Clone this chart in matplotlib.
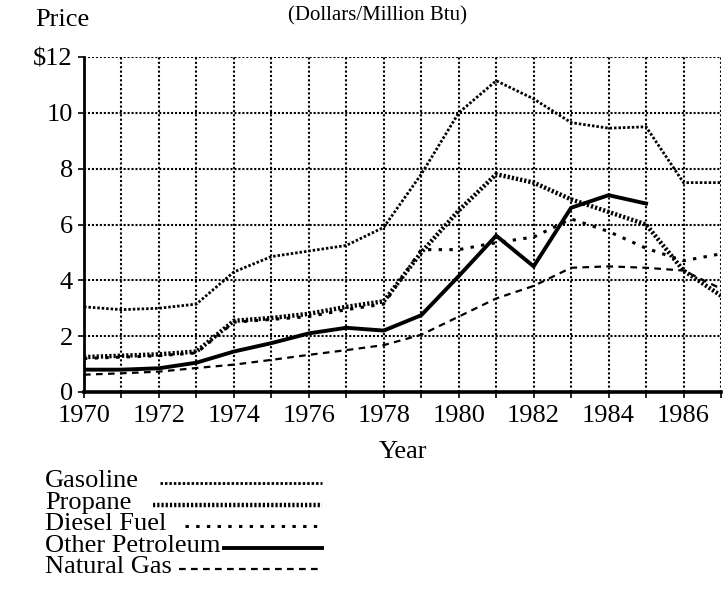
import numpy as np, matplotlib
matplotlib.use("Agg")
import matplotlib.pyplot as plt
from matplotlib.lines import Line2D

plt.rcParams['font.family'] = ['Liberation Serif', 'DejaVu Serif']

# ---- data ($/million Btu) ----
years = list(range(1970, 1988))
gasoline = [3.05, 2.95, 3.0, 3.15, 4.3, 4.85, 5.05, 5.25, 5.9, 7.8, 10.0, 11.15, 10.5, 9.65, 9.45, 9.5, 7.5, 7.5]
propane  = [1.25, 1.3, 1.35, 1.45, 2.55, 2.65, 2.8, 3.05, 3.25, 5.0, 6.5, 7.8, 7.5, 6.9, 6.45, 6.0, 4.35, 3.45]
diesel   = [1.2, 1.25, 1.3, 1.4, 2.5, 2.6, 2.7, 2.95, 3.15, 5.1, 5.1, 5.35, 5.55, 6.2, 5.75, 5.15, 4.7, 4.95]
other_years = list(range(1970, 1986))
other    = [0.8, 0.8, 0.85, 1.05, 1.45, 1.75, 2.1, 2.3, 2.2, 2.75, 4.15, 5.6, 4.5, 6.6, 7.05, 6.75]
natgas   = [0.62, 0.67, 0.73, 0.86, 0.98, 1.15, 1.33, 1.5, 1.68, 2.05, 2.7, 3.35, 3.8, 4.45, 4.5, 4.45, 4.35, 3.7]

series_names = ["Gasoline", "Propane", "Diesel Fuel", "Other Petroleum", "Natural Gas"]
ytick_vals = [0, 2, 4, 6, 8, 10, 12]
ytick_labels = ["0", "2", "4", "6", "8", "10", "$12"]

# line looks, in legend order
STY = {
    "Gasoline":        dict(lw=2.0, ls=(0, (0.9, 0.7))),
    "Propane":         dict(lw=3.2, ls=(0, (0.5, 0.45))),
    "Diesel Fuel":     dict(lw=2.2, ls=(0, (1.1, 2.4))),
    "Other Petroleum": dict(lw=2.8, ls="-"),
    "Natural Gas":     dict(lw=1.6, ls=(0, (3.0, 2.4))),
}

W, H = 728, 597
fig = plt.figure(figsize=(W/100, H/100), dpi=100)
fig.patch.set_facecolor("white")

# overlay axes in pixel coords for the free text + legend
ov = fig.add_axes([0, 0, 1, 1], zorder=0)
ov.set_xlim(0, W); ov.set_ylim(H, 0); ov.axis("off")

L, R, T, B = 84, 721, 57, 392
ax = fig.add_axes([L/W, 1-B/H, (R-L)/W, (B-T)/H], zorder=1)
ax.patch.set_alpha(0)

ax.plot(years, gasoline, color="k", **STY["Gasoline"], zorder=3)
ax.plot(years, propane, color="k", **STY["Propane"], zorder=3)
ax.plot(years, diesel, color="k", **STY["Diesel Fuel"], zorder=3)
ax.plot(other_years, other, color="k", **STY["Other Petroleum"], zorder=4)
ax.plot(years, natgas, color="k", **STY["Natural Gas"], zorder=3)

ax.set_xlim(1970, 1987); ax.set_ylim(0, 12)
ax.set_xticks(range(1970, 1987, 2))
ax.set_xticks(range(1971, 1988, 2), minor=True)
ax.set_yticks(ytick_vals)
ax.set_yticklabels(ytick_labels)
ax.tick_params(axis="both", which="both", direction="out", length=4, width=1.2,
               labelsize=19, color="k")
ax.tick_params(axis="x", pad=5)
ax.tick_params(axis="y", pad=4)

# dotted grid at every year / every $2
for yr in range(1971, 1988):
    ax.axvline(yr, color="k", lw=1.5, ls=(0, (1, 1.1)), zorder=1)
for v in range(2, 13, 2):
    ax.axhline(v, color="k", lw=1.5, ls=(0, (1, 0.9)), zorder=1)

for s in ("top", "right"):
    ax.spines[s].set_visible(False)
ax.spines["left"].set_linewidth(2.0)
ax.spines["bottom"].set_linewidth(2.6)

# labels
ov.text(35, 20, "Price", fontsize=19, ha="left", va="center")
ov.text(378, 16, "(Dollars/Million Btu)", fontsize=15, ha="center", va="center")
ov.text(403, 452, "Year", fontsize=19, ha="center", va="center")

# legend: text then a sample of the line
leg_base = [487, 508.5, 530, 551.5, 573]
leg_x0 = [160, 153, 185, 224, 179]
leg_x1 = 322
for name, yb, x0 in zip(series_names, leg_base, leg_x0):
    ov.text(45, yb, name, fontsize=19, ha="left", va="baseline")
    ov.add_line(Line2D([x0, leg_x1], [yb - 4, yb - 4], color="k", **STY[name]))

fig.savefig("out.png", dpi=100, facecolor="white")
